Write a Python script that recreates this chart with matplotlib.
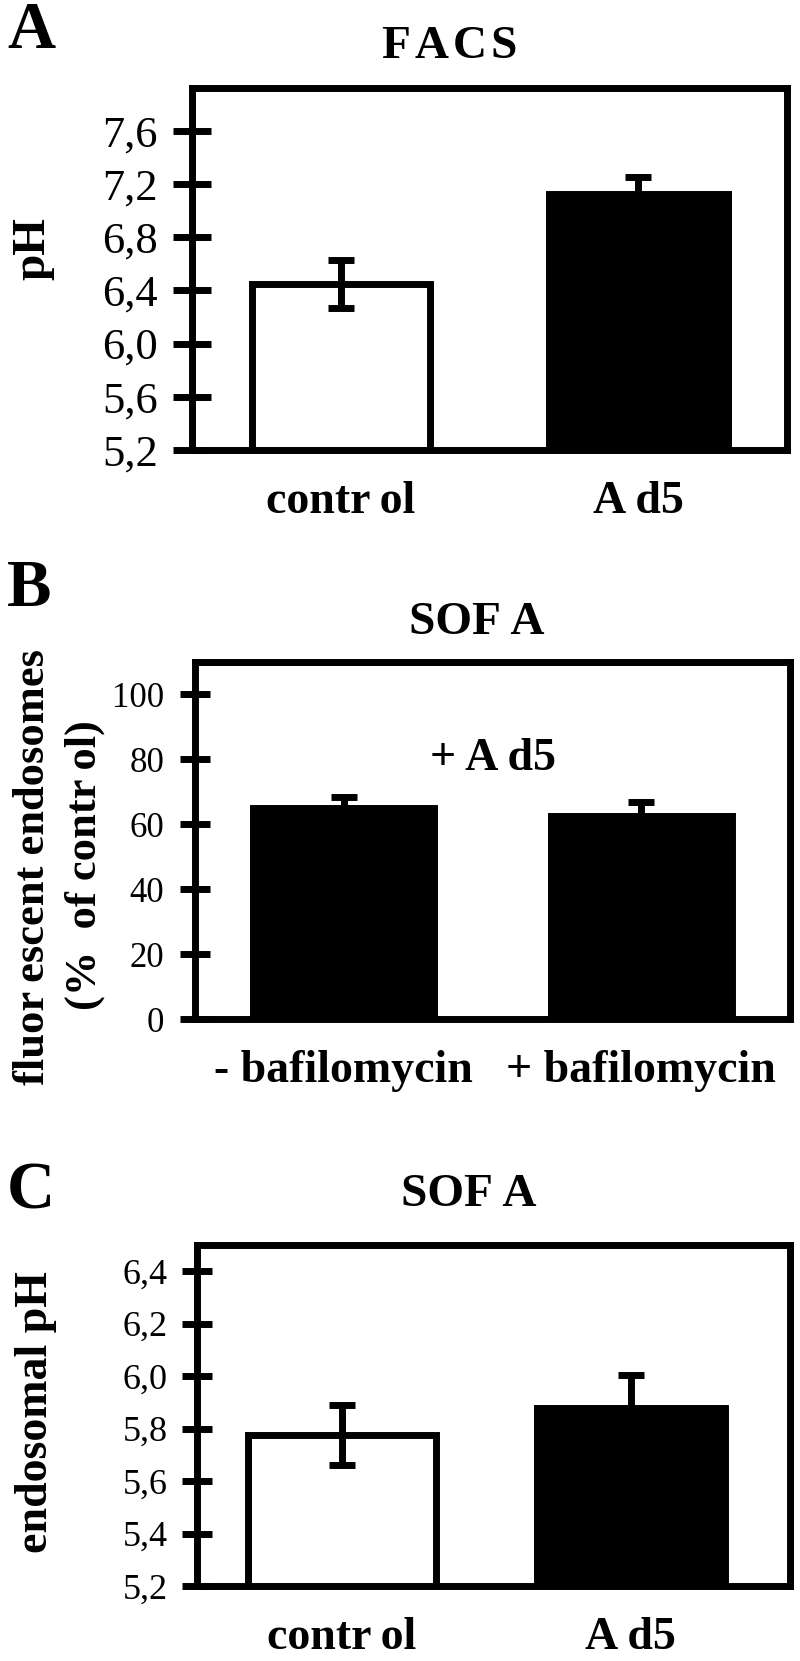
import numpy as np
import matplotlib
matplotlib.use("Agg")
import matplotlib.pyplot as plt

plt.rcParams['font.family'] = ['Liberation Serif', 'DejaVu Serif']

W, H = 800, 1661
TS = "\u2009"  # the source pdf has odd gaps inside words
HS = "\u200a"

# panel A: FACS
facs_labels = ["contr" + TS + "ol", "A" + TS + "d5"]
facs_ph = [6.45, 7.12]
facs_err = [0.18, 0.13]
facs_ticks = [5.2, 5.6, 6.0, 6.4, 6.8, 7.2, 7.6]

# panel B: SOFA, fluorescent endosomes
sofa_labels = ["- bafilomycin", "+ bafilomycin"]
sofa_pct = [65.0, 62.5]
sofa_err = [3.5, 4.5]
sofa_ticks = [0, 20, 40, 60, 80, 100]

# panel C: SOFA, endosomal pH
endo_labels = ["contr" + TS + "ol", "A" + TS + "d5"]
endo_ph = [5.775, 5.88]
endo_err = [0.115, 0.125]
endo_ticks = [5.2, 5.4, 5.6, 5.8, 6.0, 6.2, 6.4]

LW = 5
LABEL_FS = 33
LETTER_FS = 48
TITLE_FS = 34


def comma(v):
    return f"{v:.1f}".replace(".", ",")


def fig_xy(x, y):
    return x / W, 1 - y / H


def panel(fig, box, values, errs, colors, ylim, xlim, width, ticks, ticklabels, xlabels,
          tick_fs, tick_len, tick_pad):
    l, t, r, b = box
    ax = fig.add_axes([l / W, 1 - b / H, (r - l) / W, (b - t) / H])
    x = np.arange(len(values))
    ax.bar(x, values, width=width, color=colors, edgecolor="black", linewidth=LW, zorder=2)
    ax.errorbar(x, values, yerr=errs, fmt="none", ecolor="black", elinewidth=LW,
                capsize=9.5, capthick=LW, zorder=3)
    ax.set_ylim(*ylim)
    ax.set_xlim(*xlim)
    ax.set_yticks(ticks)
    ax.set_yticklabels(ticklabels)
    ax.set_xticks(x)
    ax.set_xticklabels(xlabels, fontweight="bold", fontsize=LABEL_FS)
    ax.tick_params(axis="y", direction="inout", length=tick_len, width=5, labelsize=tick_fs,
                   pad=tick_pad)
    ax.tick_params(axis="x", length=0, pad=22)
    for s in ax.spines.values():
        s.set_linewidth(LW)
    return ax


fig = plt.figure(figsize=(W / 100, H / 100), dpi=100)

# A
panel(fig, (192, 88, 787, 450), facs_ph, facs_err, ["white", "black"],
      (5.2, 7.92), (-0.5, 1.5), 0.6, facs_ticks, [comma(v) for v in facs_ticks], facs_labels,
      32, 27, 11)
fig.text(*fig_xy(31, 31), "A", fontsize=LETTER_FS, fontweight="bold", ha="center", va="center")
fig.text(*fig_xy(450, 47), HS.join("FACS"), fontsize=TITLE_FS, fontweight="bold",
         ha="center", va="center")
fig.text(*fig_xy(33, 249), "pH", fontsize=34, fontweight="bold", rotation=90,
         ha="center", va="center")

# B
axb = panel(fig, (195, 662, 790, 1019), sofa_pct, sofa_err, ["black", "black"],
            (0, 110), (-0.5, 1.5), 0.61, sofa_ticks, [str(v) for v in sofa_ticks], sofa_labels,
            25, 22, 11)
axb.text(0.5, 80, "+ A" + TS + "d5", fontsize=LABEL_FS, fontweight="bold", ha="center", va="center")
fig.text(*fig_xy(29, 590), "B", fontsize=LETTER_FS, fontweight="bold", ha="center", va="center")
fig.text(*fig_xy(477, 623), "SOF" + TS + "A", fontsize=TITLE_FS, fontweight="bold", ha="center", va="center")
fig.text(*fig_xy(33, 867), "fluor" + TS + "escent endosomes", fontsize=32, fontweight="bold",
         rotation=90, ha="center", va="center")
fig.text(*fig_xy(85, 865), "(%  of contr" + TS + "ol)", fontsize=32, fontweight="bold",
         rotation=90, ha="center", va="center")

# C
panel(fig, (197, 1245, 790, 1586), endo_ph, endo_err, ["white", "black"],
      (5.2, 6.5), (-0.5, 1.55), 0.65, endo_ticks, [comma(v) for v in endo_ticks], endo_labels,
      26, 22, 10)
fig.text(*fig_xy(31, 1192), "C", fontsize=LETTER_FS, fontweight="bold", ha="center", va="center")
fig.text(*fig_xy(469, 1195), "SOF" + TS + "A", fontsize=TITLE_FS, fontweight="bold", ha="center", va="center")
fig.text(*fig_xy(36, 1412), "endosomal pH", fontsize=LABEL_FS, fontweight="bold", rotation=90,
         ha="center", va="center")

fig.savefig("out.png", dpi=100)
